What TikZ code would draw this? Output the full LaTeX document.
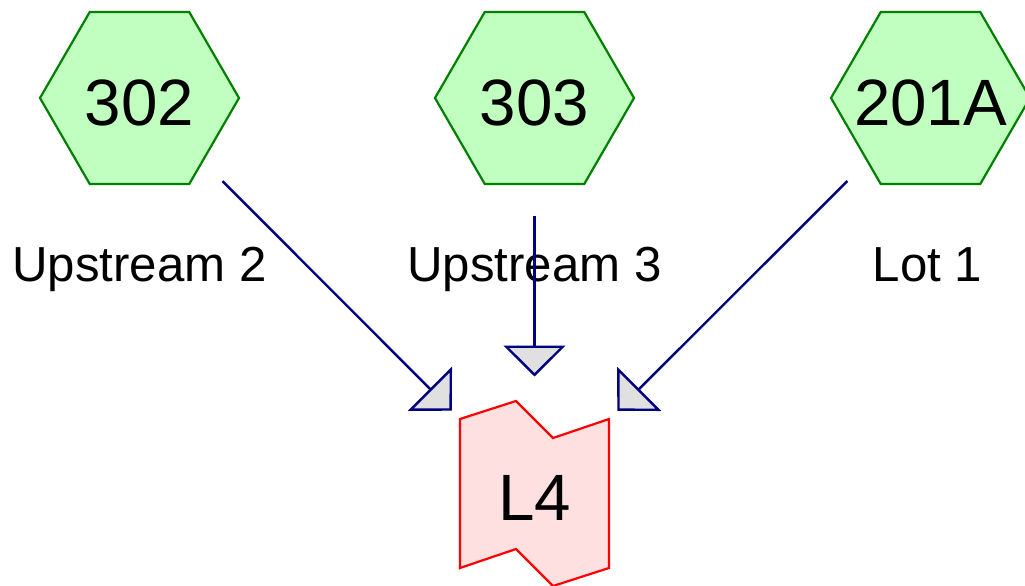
\documentclass[tikz,border=0pt]{standalone}
\usepackage{fontspec}
\setmainfont{Liberation Sans}
\usetikzlibrary{arrows.meta}
\definecolor{hexfill}{HTML}{C0FFC0}
\definecolor{hexdraw}{HTML}{008000}
\definecolor{lotfill}{HTML}{FFE0E0}
\definecolor{lotdraw}{HTML}{FF0000}
\definecolor{arrdraw}{HTML}{000080}
\definecolor{headfill}{HTML}{E0E0E0}
\begin{document}
\begin{tikzpicture}[x=1pt,y=-1pt,
  numtext/.style={inner sep=0pt, font=\fontsize{65.5}{70}\selectfont, text height=54pt, text depth=0pt},
  lbltext/.style={inner sep=0pt, anchor=base, font=\fontsize{49.2}{52}\selectfont},
  hexshape/.style={draw=hexdraw, fill=hexfill, line width=2.2pt, line join=miter},
  lotshape/.style={draw=lotdraw, fill=lotfill, line width=2.2pt, line join=miter},
  conn/.style={draw=arrdraw, line width=2.4pt, shorten <=117.5pt, shorten >=117pt,
    -{Triangle[length=31pt,width=62pt,fill=headfill]}},
]
\useasboundingbox (0,0) rectangle (1025,586);
% hexagons
\path[hexshape, shift={(139.5,98)}] (-99.5,0) -- (-49.75,-86) -- (49.75,-86) -- (99.5,0) -- (49.75,86) -- (-49.75,86) -- cycle;
\path[hexshape, shift={(534.5,98)}] (-99.5,0) -- (-49.75,-86) -- (49.75,-86) -- (99.5,0) -- (49.75,86) -- (-49.75,86) -- cycle;
\path[hexshape, shift={(930.5,98)}] (-99.5,0) -- (-49.75,-86) -- (49.75,-86) -- (99.5,0) -- (49.75,86) -- (-49.75,86) -- cycle;
% lot shape
\path[lotshape, shift={(534.5,493.5)}] (-74.5,-74.5) -- (-18.5,-92.5) -- (18.5,-55.5) -- (74.5,-74.5) -- (74.5,74.5) -- (18.5,92.5) -- (-18.5,55.5) -- (-74.5,74.5) -- cycle;
% texts
\node[numtext] (h1) at (139.5,98) {302};
\node[numtext] (h2) at (534.5,98) {303};
\node[numtext] (h3) at (930.5,98) {201A};
\node[numtext] (l4) at (534.5,493.5) {L4};
\node[lbltext] (t1) at (139.5,281) {Upstream 2};
\node[lbltext] (t2) at (534.5,281) {Upstream 3};
\node[lbltext] (t3) at (927.5,281) {Lot 1};
% connectors
\draw[conn] (h1.center) -- (l4.center);
\draw[conn] (h2.center) -- (l4.center);
\draw[conn] (h3.center) -- (l4.center);
\end{tikzpicture}
\end{document}
